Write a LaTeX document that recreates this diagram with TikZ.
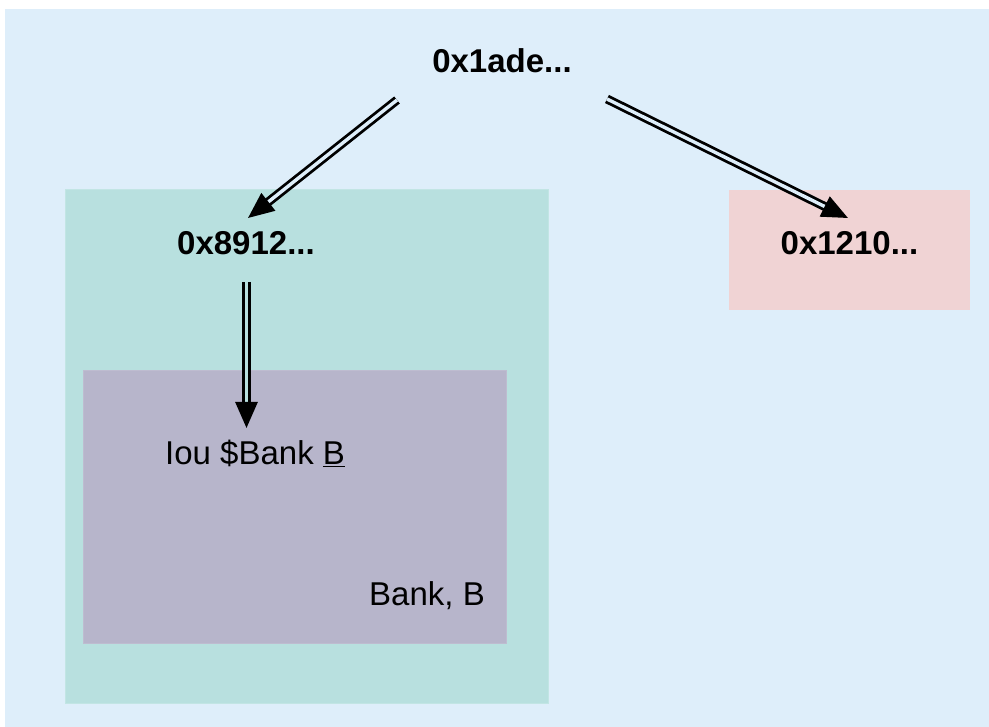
\documentclass[tikz,border=0pt]{standalone}
\usepackage{fontspec}
\setmainfont{Liberation Sans}
\usetikzlibrary{arrows.meta}
\definecolor{bgblue}{HTML}{DEEEFA}
\definecolor{tealbox}{HTML}{B8E0DF}
\definecolor{tealedge}{HTML}{C2E5E4}
\definecolor{purplebox}{HTML}{B7B5CB}
\definecolor{pinkbox}{HTML}{F0D3D4}
\tikzset{
  hashlabel/.style={font=\fontsize{33}{40}\selectfont\bfseries, inner sep=0pt},
  plainlabel/.style={font=\fontsize{33}{40}\selectfont, inner sep=0pt},
  dblarrow/.style={draw=black, line width=2.8pt, double=bgblue, double distance=3.4pt,
    -{Triangle[length=26pt,width=22pt]}, shorten >=0pt},
}
\begin{document}
\begin{tikzpicture}[x=1pt,y=-1pt]
\useasboundingbox (0,0) rectangle (989,727);
\fill[white] (0,0) rectangle (989,727);
\fill[bgblue] (5,9) rectangle (989,727);
\filldraw[fill=tealbox, draw=tealedge, line width=1pt] (65,190) rectangle (548,703);
\filldraw[fill=purplebox, draw=purplebox!90!white, line width=1pt] (83,371) rectangle (506,643);
\fill[pinkbox] (729,190) rectangle (970,310);

\node[hashlabel, anchor=base] (top) at (502,73) {0x1ade...};
\node[hashlabel, anchor=base] (left) at (246,255) {0x8912...};
\node[hashlabel, anchor=base] (right) at (849.5,255) {0x1210...};
\node[plainlabel, anchor=base west] (iou) at (165,465) {Iou \$Bank \underline{B}};
\node[plainlabel, anchor=base east] (bank) at (485,605) {Bank, B};

\coordinate (s1) at (397,100);
\coordinate (t1) at (248,218);
\coordinate (s2) at (607,99);
\coordinate (t2) at (848,218);
\coordinate (s3) at (246.5,282);
\coordinate (t3) at (246.5,428);

\draw[dblarrow] (s1) -- (t1);
\draw[dblarrow, double=bgblue] (s2) -- (t2);
\draw[dblarrow, double=tealbox] (s3) -- (t3);
\end{tikzpicture}
\end{document}
